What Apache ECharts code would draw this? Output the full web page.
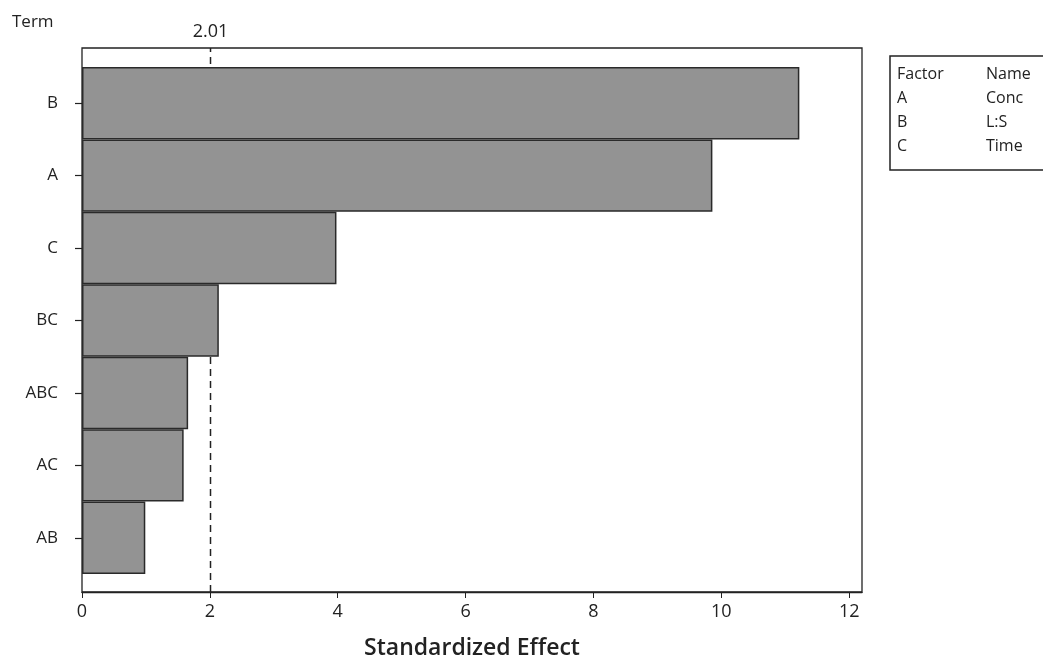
<!DOCTYPE html>
<html>
<head>
<meta charset="utf-8">
<script src="https://cdn.jsdelivr.net/npm/echarts@6/dist/echarts.min.js"></script>
<style>
html,body{margin:0;padding:0;background:#fff;}
#chart{width:1043px;height:662px;}
</style>
</head>
<body>
<div id="chart"></div>
<script>
const terms = ['B', 'A', 'C', 'BC', 'ABC', 'AC', 'AB'];
const effects = [11.22, 9.86, 3.98, 2.14, 1.66, 1.59, 0.99];
const xTicks = [0, 2, 4, 6, 8, 10, 12];
const critical = 2.01;
const factorCodes = ['A', 'B', 'C'];
const factorNames = ['Conc', 'L:S', 'Time'];

const FONT = 'Open Sans';
const ink = '#222';

const chart = echarts.init(document.getElementById('chart'), null, {renderer: 'canvas'});

function txt(x, y, s, size) {
  return {type: 'text', x: x, y: y, z: 11,
    style: {text: s, fontSize: size, fontFamily: FONT, fill: ink, textVerticalAlign: 'middle'}};
}

const graphics = [
  txt(12, 22, 'Term', 17),
  {type: 'rect', shape: {x: 890, y: 56, width: 170, height: 114}, style: {fill: '#fff', stroke: ink, lineWidth: 1.5}, z: 10},
  txt(897, 74, 'Factor', 16),
  txt(986, 74, 'Name', 16)
];
factorCodes.forEach((c, i) => {
  graphics.push(txt(897, 98 + i * 24, c, 16));
  graphics.push(txt(986, 98 + i * 24, factorNames[i], 16));
});

const option = {
  backgroundColor: '#fff',
  animation: false,
  grid: [
    {left: 82, right: 181, top: 48, bottom: 70, show: true, borderColor: ink, borderWidth: 1.3,
     backgroundColor: 'transparent', containLabel: false, outerBoundsMode: 'none'},
    {left: 82, right: 181, top: 67, bottom: 88, containLabel: false, outerBoundsMode: 'none'}
  ],
  xAxis: [
    {
      gridIndex: 0, type: 'value', min: 0, max: 12.2, position: 'bottom',
      axisLine: {show: true, lineStyle: {color: ink, width: 1.3}},
      axisTick: {show: true, length: 6, customValues: xTicks, lineStyle: {color: ink}},
      axisLabel: {customValues: xTicks, color: ink, fontSize: 18, fontFamily: FONT, margin: 11},
      splitLine: {show: false},
      name: 'Standardized Effect', nameLocation: 'middle', nameGap: 45,
      nameTextStyle: {fontSize: 23, fontFamily: FONT, fontWeight: 600, color: ink}
    },
    {
      gridIndex: 0, type: 'value', min: 0, max: 12.2, position: 'top',
      axisLine: {show: false}, axisTick: {show: false}, splitLine: {show: false},
      axisLabel: {customValues: [critical], color: ink, fontSize: 18, fontFamily: FONT, margin: 7,
        formatter: v => v.toFixed(2)}
    },
    {gridIndex: 1, type: 'value', min: 0, max: 12.2, show: false}
  ],
  yAxis: [
    {gridIndex: 0, type: 'value', min: 0, max: 1, show: false},
    {
      gridIndex: 1, type: 'category', data: terms, inverse: true,
      axisLine: {show: false},
      axisTick: {show: true, alignWithLabel: true, length: 7, lineStyle: {color: ink, width: 1.2}},
      axisLabel: {color: ink, fontSize: 17, fontFamily: FONT, margin: 24},
      splitLine: {show: false}
    }
  ],
  series: [
    {
      type: 'line', xAxisIndex: 0, yAxisIndex: 0, z: 1,
      data: [[critical, 0], [critical, 1]],
      symbol: 'none',
      lineStyle: {color: ink, width: 1.5, type: [7, 5]}
    },
    {
      type: 'bar', xAxisIndex: 2, yAxisIndex: 1, z: 3,
      data: effects,
      barWidth: '100%',
      itemStyle: {color: '#939393', borderColor: '#2a2a2a', borderWidth: 1.5}
    }
  ],
  graphic: graphics
};
chart.setOption(option);
</script>
</body>
</html>
